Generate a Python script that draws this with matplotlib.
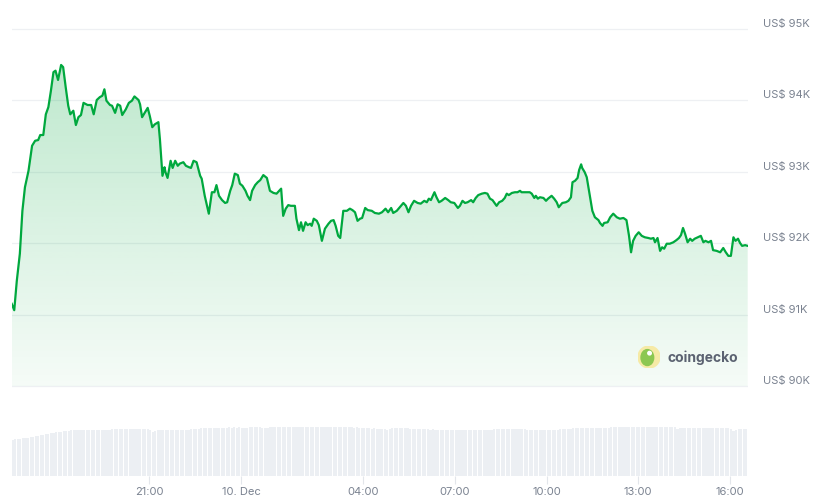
import numpy as np
import pandas as pd
import matplotlib
matplotlib.use('Agg')
import matplotlib.pyplot as plt
import matplotlib.dates as mdates
from matplotlib.colors import to_rgb
from matplotlib.patches import Circle, Ellipse

plt.rcParams['font.family'] = ['Inter', 'DejaVu Sans']

# price series: minutes after 9 Dec 16:30, price in USD
start = pd.Timestamp('2024-12-09 16:30')
minutes = [0, 5, 10, 16, 21, 26, 33, 40, 46, 52, 56, 62, 67, 72, 77, 82, 86, 91, 97, 101,
           106, 111, 115, 121, 126, 131, 136, 141, 149, 156, 161, 167, 173, 178, 182, 186, 193, 197, 203, 208,
           213, 217, 224, 230, 236, 241, 249, 252, 256, 262, 267, 271, 276, 281, 288, 291, 296, 300, 302, 306,
           312, 316, 321, 326, 330, 337, 342, 348, 352, 357, 363, 370, 373, 379, 387, 393, 398, 402, 407, 413,
           419, 423, 429, 433, 438, 444, 448, 453, 459, 463, 468, 472, 478, 483, 488, 494, 501, 507, 514, 520,
           529, 533, 538, 543, 548, 556, 559, 564, 568, 572, 577, 581, 586, 589, 593, 599, 603, 609, 615, 622,
           627, 632, 636, 641, 645, 651, 658, 664, 669, 674, 679, 684, 688, 694, 699, 707, 713, 721, 727, 734,
           739, 745, 749, 756, 762, 769, 774, 779, 784, 790, 797, 803, 810, 815, 819, 823, 830, 834, 839, 844,
           851, 857, 862, 869, 876, 880, 885, 890, 895, 902, 906, 911, 916, 923, 929, 934, 939, 944, 949, 952,
           957, 963, 968, 972, 976, 982, 988, 993, 998, 1001, 1006, 1013, 1017, 1021, 1026, 1029, 1033, 1037, 1044, 1049,
           1053, 1060, 1065, 1070, 1074, 1081, 1088, 1093, 1098, 1101, 1106, 1111, 1114, 1118, 1120, 1125, 1129, 1135, 1140, 1145,
           1152, 1155, 1160, 1163, 1170, 1175, 1181, 1188, 1194, 1201, 1207, 1212, 1216, 1220, 1225, 1231, 1237, 1243, 1250, 1255,
           1260, 1263, 1268, 1273, 1277, 1281, 1286, 1292, 1299, 1305, 1310, 1314, 1318, 1322, 1327, 1332, 1336, 1341, 1347, 1353,
           1358, 1362, 1368, 1373, 1377, 1384, 1391, 1397, 1402, 1407, 1412, 1417, 1421, 1426, 1430, 1434, 1440, 1445]
prices = [91150, 91060, 91470, 91850, 92450, 92780, 93010, 93360, 93430, 93440, 93510, 93510, 93800, 93900, 94130, 94390, 94410, 94280, 94490, 94460,
          94180, 93920, 93800, 93850, 93650, 93760, 93790, 93960, 93930, 93930, 93800, 94000, 94040, 94060, 94150, 93990, 93930, 93920, 93820, 93940,
          93920, 93790, 93870, 93960, 93990, 94050, 94000, 93940, 93760, 93830, 93890, 93780, 93620, 93660, 93690, 93450, 92940, 93060, 92990, 92910,
          93150, 93050, 93150, 93080, 93110, 93130, 93080, 93060, 93050, 93150, 93130, 92940, 92900, 92660, 92410, 92710, 92710, 92810, 92660, 92600,
          92560, 92570, 92730, 92810, 92970, 92950, 92830, 92800, 92730, 92660, 92600, 92730, 92810, 92850, 92880, 92950, 92910, 92730, 92700, 92690,
          92760, 92380, 92480, 92530, 92520, 92520, 92340, 92180, 92290, 92170, 92290, 92250, 92270, 92240, 92340, 92310, 92250, 92030, 92200, 92270,
          92310, 92320, 92240, 92100, 92070, 92450, 92450, 92480, 92460, 92430, 92310, 92340, 92350, 92490, 92460, 92450, 92420, 92410, 92430, 92480,
          92430, 92490, 92420, 92450, 92500, 92560, 92520, 92430, 92520, 92590, 92560, 92550, 92590, 92570, 92620, 92600, 92710, 92640, 92570, 92590,
          92630, 92600, 92570, 92560, 92490, 92520, 92590, 92560, 92570, 92600, 92570, 92630, 92670, 92690, 92700, 92690, 92620, 92600, 92550, 92520,
          92570, 92590, 92630, 92690, 92670, 92700, 92710, 92710, 92730, 92710, 92710, 92710, 92710, 92690, 92630, 92660, 92620, 92640, 92630, 92590,
          92620, 92660, 92620, 92570, 92500, 92560, 92570, 92590, 92640, 92850, 92870, 92910, 93020, 93100, 93050, 92990, 92920, 92660, 92450, 92360,
          92320, 92280, 92240, 92280, 92290, 92360, 92410, 92360, 92340, 92350, 92320, 92100, 91870, 92030, 92100, 92150, 92100, 92080, 92070, 92060,
          92070, 92010, 92070, 91890, 91940, 91920, 91990, 91990, 92010, 92040, 92070, 92110, 92210, 92130, 92010, 92060, 92030, 92060, 92080, 92100,
          92010, 92030, 92010, 92030, 91900, 91890, 91870, 91930, 91870, 91820, 91820, 92080, 92030, 92060, 92000, 91960, 91970, 91960]

# 5-minute volume bars (relative units)
volume = [36.5, 36.8, 37.0, 37.4, 37.6, 38.0, 38.5, 39.0, 39.4, 39.8, 40.3, 40.8,
          41.3, 41.8, 42.2, 42.7, 43.1, 43.6, 44.0, 44.4, 44.8, 45.2, 45.5, 45.8,
          46.0, 46.1, 46.0, 46.2, 46.1, 46.0, 46.2, 46.3, 46.1, 46.0, 46.2, 46.4,
          46.3, 46.5, 46.4, 46.6, 46.8, 46.7, 46.9, 47.0, 46.8, 46.9, 47.1, 46.9,
          47.0, 47.2, 47.0, 46.8, 47.1, 46.9, 46.5, 44.5, 45.2, 45.8, 46.0, 46.1,
          46.0, 46.2, 46.1, 46.0, 46.2, 46.1, 46.0, 46.3, 46.2, 46.4, 46.6, 47.0,
          47.3, 47.5, 47.7, 47.8, 47.6, 47.9, 48.1, 48.2, 48.0, 48.3, 48.4, 48.5,
          48.4, 48.6, 48.5, 48.7, 48.5, 48.6, 48.4, 47.6, 48.3, 48.6, 48.8, 48.7,
          48.9, 48.6, 47.9, 47.6, 48.3, 48.8, 48.9, 48.8, 49.0, 48.9, 48.8, 49.0,
          49.1, 48.9, 49.0, 49.2, 49.0, 49.1, 48.9, 49.0, 49.2, 49.1, 49.0, 49.3,
          49.2, 49.4, 49.1, 49.3, 49.5, 49.2, 49.0, 49.3, 49.4, 49.2, 49.1, 49.0,
          48.9, 48.7, 48.5, 48.6, 48.4, 48.3, 48.0, 47.8, 47.6, 47.5, 47.7, 47.4,
          47.5, 47.2, 46.8, 46.5, 47.0, 47.6, 47.9, 48.2, 48.4, 48.1, 47.9, 47.6,
          47.4, 47.0, 46.8, 47.2, 46.9, 46.7, 46.6, 46.8, 46.5, 46.6, 46.4, 46.3,
          46.5, 46.4, 46.3, 46.2, 46.4, 46.3, 46.2, 46.1, 46.3, 46.2, 46.0, 46.2,
          46.3, 46.1, 46.2, 46.0, 46.1, 46.3, 46.2, 46.4, 46.3, 46.6, 46.8, 47.0,
          46.7, 46.9, 47.0, 47.1, 46.8, 47.0, 47.2, 46.9, 47.0, 46.6, 46.2, 45.8,
          45.9, 46.0, 46.1, 46.0, 46.2, 46.1, 46.0, 46.3, 46.2, 46.4, 46.5, 46.7,
          46.8, 47.0, 47.2, 47.4, 47.6, 47.8, 47.7, 47.9, 48.0, 47.8, 47.7, 47.9,
          47.8, 47.7, 47.9, 48.1, 48.0, 48.2, 48.4, 48.6, 48.8, 48.7, 48.9, 49.0,
          48.9, 49.1, 49.0, 49.2, 49.0, 49.1, 48.9, 49.0, 49.2, 49.1, 49.0, 48.9,
          49.0, 49.1, 48.9, 49.0, 48.8, 49.0, 48.9, 49.1, 48.8, 47.5, 48.0, 48.3,
          47.8, 47.6, 47.9, 47.7, 47.8, 47.6, 47.9, 48.0, 47.8, 47.7, 47.9, 48.0,
          48.1, 48.2, 48.3, 48.1, 48.2, 48.4, 47.2, 45.5, 46.5, 47.0, 46.9, 47.0,
          47.1]

tick_times = ['2024-12-09 21:00', '2024-12-10 00:00', '2024-12-10 04:00', '2024-12-10 07:00',
              '2024-12-10 10:00', '2024-12-10 13:00', '2024-12-10 16:00']
tick_labels = ['21:00', '10. Dec', '04:00', '07:00', '10:00', '13:00', '16:00']
price_levels = [90000, 91000, 92000, 93000, 94000, 95000]
price_labels = ['US$ 90K', 'US$ 91K', 'US$ 92K', 'US$ 93K', 'US$ 94K', 'US$ 95K']

green = '#00a83e'
grey_text = '#7a8290'

times = start + pd.to_timedelta(minutes, unit='m')
vol_times = start + pd.to_timedelta(np.arange(len(volume)) * 5, unit='m')
t0, t1 = times[0], times[-1]

W, H = 829, 502
fig = plt.figure(figsize=(W / 100, H / 100), dpi=100)

# price panel
ax = fig.add_axes([11.7 / W, (H - 394.15) / H, 736 / W, (394.15 - 22.35) / H])
for lv in price_levels:
    ax.axhline(lv, color='#eef0f3', lw=0.9, zorder=0)
ax.plot(times, prices, color=green, lw=1.6, solid_joinstyle='round', zorder=3)

# gradient fill under the line
poly = ax.fill_between(times, prices, 90000, color='none', lw=0)
img = np.zeros((256, 1, 4))
img[..., :3] = to_rgb(green)
img[..., 3] = np.linspace(0.28, 0.04, 256).reshape(-1, 1)
xn = mdates.date2num([t0, t1])
im = ax.imshow(img, extent=[xn[0], xn[1], 90000, 95000], aspect='auto', origin='upper', zorder=1)
im.set_clip_path(poly.get_paths()[0], ax.transData)

ax.set_xlim(t0, t1)
ax.set_ylim(89900, 95100)
ax.axis('off')

for lv, lab in zip(price_levels, price_labels):
    ax.annotate(lab, xy=(1, lv), xycoords=ax.get_yaxis_transform(), xytext=(15, 2.5),
                textcoords='offset pixels', ha='left', va='baseline', fontsize=8,
                color=grey_text, annotation_clip=False)

# volume panel
vax = fig.add_axes([11.7 / W, (H - 477) / H, 736 / W, 50 / H])
vax.bar(vol_times, volume, width=4.2 / 1440, align='edge', color='#eceff3', lw=0)
vax.set_xlim(t0, t1)
vax.set_ylim(0, 50)
for s in vax.spines.values():
    s.set_visible(False)
vax.set_yticks([])
vax.set_xticks(pd.to_datetime(tick_times))
vax.set_xticklabels(tick_labels)
vax.tick_params(axis='x', length=6, width=0.8, color='#e3e6eb', labelcolor=grey_text,
                labelsize=8, pad=1.5)

# coingecko watermark
lax = fig.add_axes([638 / W, (H - 369) / H, 22 / W, 22 / H])
lax.set_xlim(-1, 1)
lax.set_ylim(-1, 1)
lax.axis('off')
lax.add_patch(Circle((0, 0), 1, color='#f6eaa6'))
lax.add_patch(Ellipse((-0.15, -0.05), 1.15, 1.45, color='#8cc751'))
lax.add_patch(Circle((0.05, 0.35), 0.16, color='white'))
fig.text(668 / W, (H - 358) / H, 'coingecko', fontsize=10, fontweight='bold',
         color='#5b6271', va='center', ha='left')

fig.savefig('out.png', dpi=100)
